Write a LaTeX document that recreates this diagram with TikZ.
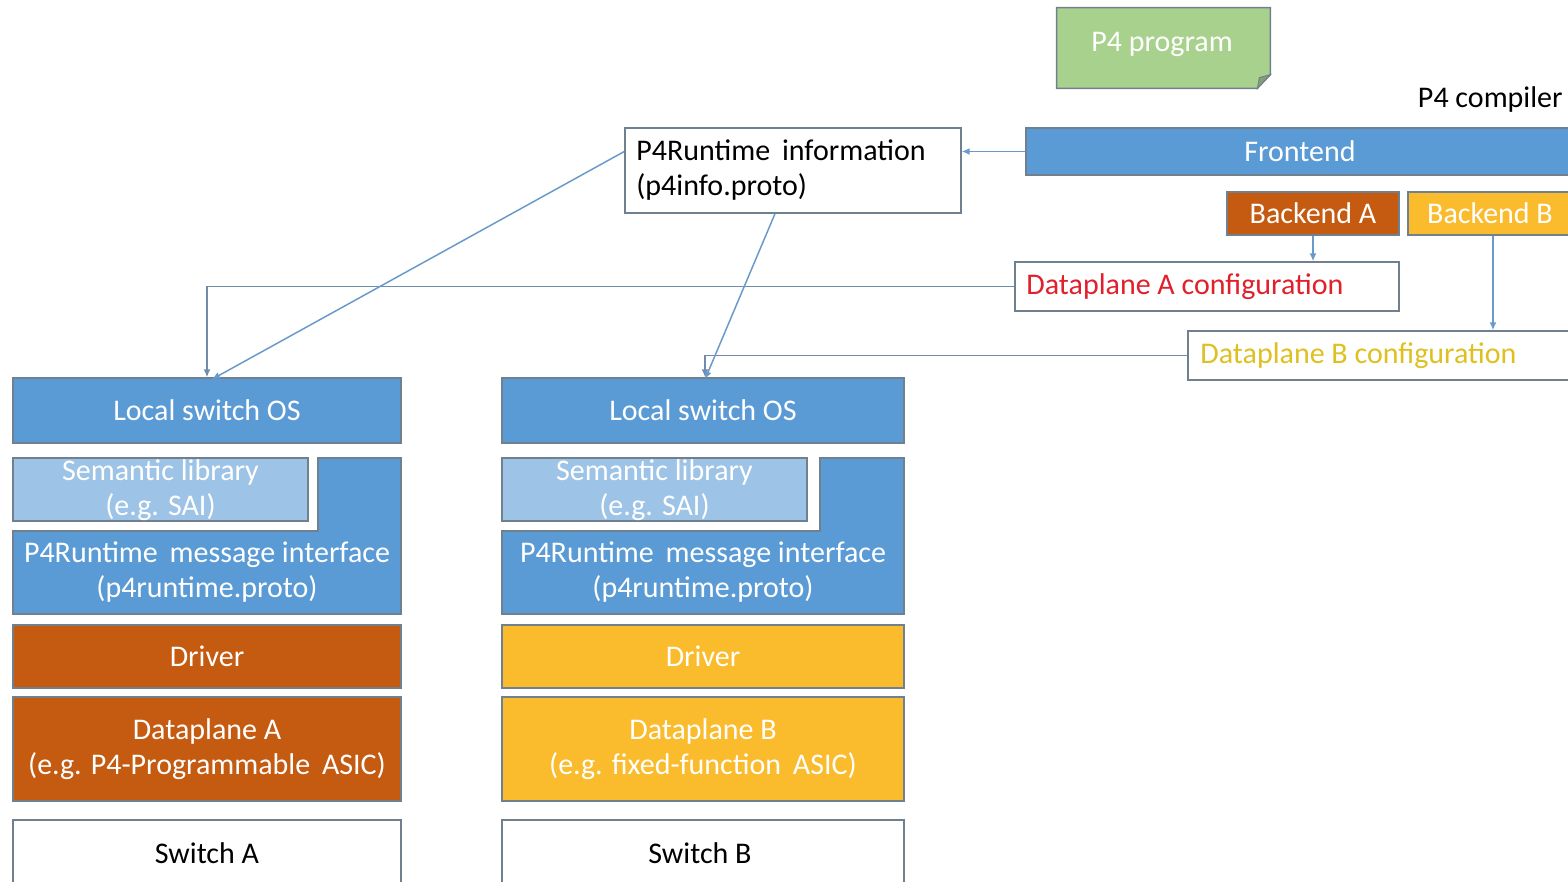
\documentclass[tikz,border=0pt]{standalone}
\usepackage{fontspec}
\setmainfont{Carlito}
\usetikzlibrary{arrows.meta,calc,fit}
\definecolor{cblue}{HTML}{5B9BD5}
\definecolor{clight}{HTML}{9DC3E6}
\definecolor{corange}{HTML}{C55A11}
\definecolor{cgold}{HTML}{FABB2D}
\definecolor{cgreen}{HTML}{A9D18E}
\definecolor{cgreendark}{HTML}{869F72}
\definecolor{cborder}{HTML}{71808F}
\definecolor{cline}{HTML}{6F8CAB}
\definecolor{carrow}{HTML}{6A9ACB}
\definecolor{cred}{HTML}{E0202C}
\definecolor{cyel}{HTML}{DFC020}
\begin{document}
\begin{tikzpicture}[x=0.5pt,y=-0.5pt,
  font=\fontsize{15}{17.5}\selectfont,
  blk/.style={draw=cborder, line width=0.7pt, inner sep=0pt},
  bluebox/.style={blk, fill=cblue},
  orangebox/.style={blk, fill=corange},
  goldbox/.style={blk, fill=cgold},
  lightbox/.style={blk, fill=clight},
  whitebox/.style={blk, fill=white},
  wtxt/.style={inner sep=0pt, align=center, text=white},
  btxt/.style={inner sep=0pt, align=center, text=black},
  conn/.style={draw=cline, line width=0.75pt, -{Latex[length=4pt,width=3.5pt]}},
  connb/.style={draw=carrow, line width=0.75pt, -{Latex[length=4pt,width=3.5pt]}}
]
\useasboundingbox (0,0) rectangle (1568,882);
\clip (0,0) rectangle (1568,882);

% P4 program (note shape)
\node[inner sep=0pt, fit={(1057,8)(1270,88)}] (prog) {};
\fill[cgreen, draw=cborder, line width=0.7pt]
  (prog.north west) -- (prog.north east) -- ($(prog.north east)+(0,67)$)
  -- ($(prog.south east)+(-13,0)$) -- (prog.south west) -- cycle;
\fill[cgreendark, draw=cborder, line width=0.5pt]
  ($(prog.north east)+(0,67)$) -- ($(prog.south east)+(-13,0)$) -- ($(prog.north east)+(-11,70)$) -- cycle;
\node[wtxt] at (1162,44) (progT) {P4 program};

% compiler
\node[anchor=east, inner sep=0pt] (comp) at (1563,100) {P4 compiler};
\node[bluebox, fit={(1026,128)(1574,175)}] (fe) {};
\node[wtxt] at (fe.center) (feT) {Frontend};
\node[orangebox, fit={(1227,192)(1399,235)}] (bA) {};
\node[wtxt] at (bA.center) (bAT) {Backend A};
\node[goldbox, fit={(1408,192)(1572,235)}] (bB) {};
\node[wtxt] at (bB.center) (bBT) {Backend B};

% info
\node[whitebox, fit={(625,128)(961,213)}] (info) {};
\node[anchor=west, align=left, inner sep=0pt] (infoT) at (636,170) {P4Runtime\, information\\(p4info.proto)};

% dataplane configurations
\node[whitebox, fit={(1015,262)(1399,311)}] (dpa) {};
\node[anchor=west, inner sep=0pt, text=cred] (dpaT) at (1026,287) {Dataplane A configuration};
\node[whitebox, fit={(1188,331)(1590,380)}] (dpb) {};
\node[anchor=west, inner sep=0pt, text=cyel] (dpbT) at (1200,356) {Dataplane B configuration};

% Switch A stack
\node[bluebox, fit={(13,378)(401,443)}] (osA) {};
\node[wtxt] at (osA.center) (osAT) {Local switch OS};
\fill[cblue, draw=cborder, line width=0.7pt]
  (13,531) -- (318,531) -- (318,458) -- (401,458) -- (401,614) -- (13,614) -- cycle;
\node[inner sep=0pt, fit={(13,531)(401,614)}] (msgA) {};
\node[wtxt] at (msgA.center) (msgAT) {P4Runtime\, message interface\\(p4runtime.proto)};
\node[lightbox, fit={(13,458)(308,521)}] (semA) {};
\node[wtxt] at ([yshift=-0.5pt]semA.center) (semAT) {Semantic library\\(e.g. SAI)};
\node[orangebox, fit={(13,625)(401,688)}] (drvA) {};
\node[wtxt] at (drvA.center) (drvAT) {Driver};
\node[orangebox, fit={(13,697)(401,801)}] (dpA) {};
\node[wtxt] at (dpA.center) (dpAT) {Dataplane A\\(e.g. P4-Programmable\, ASIC)};
\node[whitebox, fit={(13,820)(401,888)}] (swA) {};
\node[btxt] at (207,853) (swAT) {Switch A};

% Switch B stack
\node[bluebox, fit={(502,378)(904,443)}] (osB) {};
\node[wtxt] at (osB.center) (osBT) {Local switch OS};
\fill[cblue, draw=cborder, line width=0.7pt]
  (502,531) -- (820,531) -- (820,458) -- (904,458) -- (904,614) -- (502,614) -- cycle;
\node[inner sep=0pt, fit={(502,531)(904,614)}] (msgB) {};
\node[wtxt] at (msgB.center) (msgBT) {P4Runtime\, message interface\\(p4runtime.proto)};
\node[lightbox, fit={(502,458)(807,521)}] (semB) {};
\node[wtxt] at ([yshift=-0.5pt]semB.center) (semBT) {Semantic library\\(e.g. SAI)};
\node[goldbox, fit={(502,625)(904,688)}] (drvB) {};
\node[wtxt] at (drvB.center) (drvBT) {Driver};
\node[goldbox, fit={(502,697)(904,801)}] (dpB) {};
\node[wtxt] at (dpB.center) (dpBT) {Dataplane B\\(e.g. fixed-function\, ASIC)};
\node[whitebox, fit={(502,820)(904,888)}] (swB) {};
\node[btxt] at (700,853) (swBT) {Switch B};

% connectors
\draw[connb] (fe.west) -- (fe.west -| info.east);
\draw[connb] (bA.south) -- (bA.south |- dpa.north);
\draw[connb] ([xshift=1.5pt]bB.south) -- ([xshift=1.5pt]bB.south |- dpb.north);
\draw[conn] (dpa.west) -| (osA.north);
\draw[conn] (dpb.west) -| ([xshift=1pt]osB.north);
\draw[connb] ($(info.north west)!0.28!(info.south west)$) -- ([xshift=2.5pt,yshift=-1pt]osA.north);
\draw[connb] ([xshift=-9pt]info.south) -- ([xshift=1pt,yshift=-1pt]osB.north);
\end{tikzpicture}
\end{document}
